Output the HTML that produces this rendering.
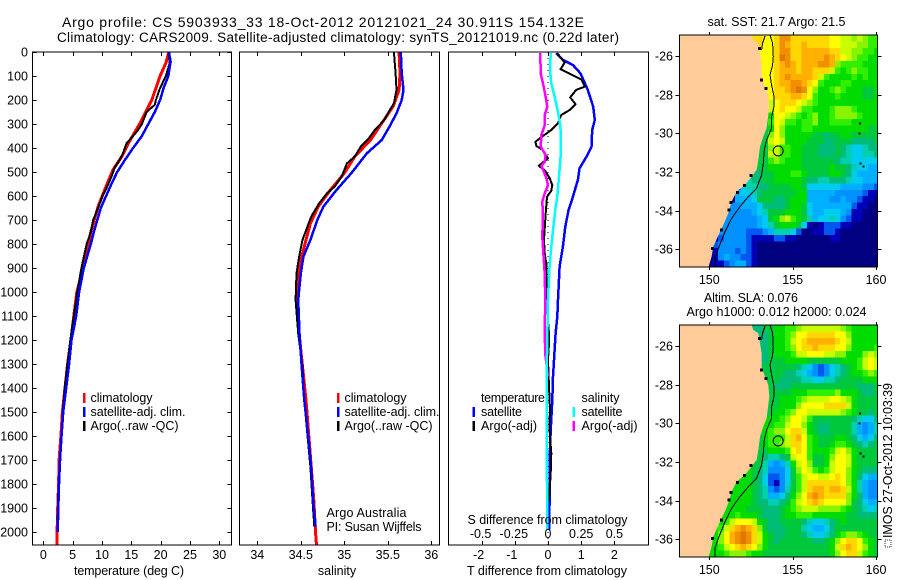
<!DOCTYPE html>
<html lang="en">
<head>
<meta charset="utf-8">
<title>Argo profile CS 5903933_33</title>
<style>
html,body{margin:0;padding:0;background:#fff;width:900px;height:580px;overflow:hidden}
svg{display:block}
text{font-family:"Liberation Sans",sans-serif;font-size:12.5px;fill:#000}
</style>
</head>
<body>
<svg id="fig" xmlns="http://www.w3.org/2000/svg" width="900" height="580" viewBox="0 0 900 580">
<defs>
<clipPath id="clip-map1"><rect x="679.5" y="35" width="198" height="232"/></clipPath>
<clipPath id="clip-map2"><rect x="679.5" y="325" width="198" height="232"/></clipPath>
</defs>
<text x="62" y="27" style="font-size:14px" textLength="522" lengthAdjust="spacing">Argo profile: CS 5903933_33 18-Oct-2012 20121021_24 30.911S 154.132E</text>
<text x="57" y="42" style="font-size:13.5px" textLength="562" lengthAdjust="spacing">Climatology: CARS2009. Satellite-adjusted climatology: synTS_20121019.nc (0.22d later)</text>
<g id="plots"></g>

<text x="129" y="575" text-anchor="middle" textLength="110" lengthAdjust="spacing">temperature (deg C)</text>
<text x="337" y="575" text-anchor="middle">salinity</text>
<text x="467" y="575" textLength="160" lengthAdjust="spacing">T difference from climatology</text>
<text x="467.5" y="524" textLength="160" lengthAdjust="spacing">S difference from climatology</text>

<g>
<rect x="83" y="393" width="2.5" height="10" fill="#ff0000"/>
<text x="90.5" y="402" textLength="62" lengthAdjust="spacing">climatology</text>
<rect x="83" y="407" width="2.5" height="10" fill="#0000ff"/>
<text x="90.5" y="416" textLength="95" lengthAdjust="spacing">satellite-adj. clim.</text>
<rect x="83" y="421" width="2.5" height="10" fill="#000"/>
<text x="90.5" y="430" textLength="88" lengthAdjust="spacing">Argo(..raw -QC)</text>
</g>
<g>
<rect x="337" y="393" width="2.5" height="10" fill="#ff0000"/>
<text x="344.5" y="402" textLength="62" lengthAdjust="spacing">climatology</text>
<rect x="337" y="407" width="2.5" height="10" fill="#0000ff"/>
<text x="344.5" y="416" textLength="95" lengthAdjust="spacing">satellite-adj. clim.</text>
<rect x="337" y="421" width="2.5" height="10" fill="#000"/>
<text x="344.5" y="430" textLength="88" lengthAdjust="spacing">Argo(..raw -QC)</text>
</g>
<text x="326.5" y="517" textLength="80" lengthAdjust="spacing">Argo Australia</text>
<text x="326.5" y="531" textLength="95" lengthAdjust="spacing">PI: Susan Wijffels</text>

<g>
<text x="481" y="402" textLength="64" lengthAdjust="spacing">temperature</text>
<rect x="472.5" y="407" width="2.5" height="10" fill="#0000ff"/>
<text x="481" y="416" textLength="41" lengthAdjust="spacing">satellite</text>
<rect x="472.5" y="421" width="2.5" height="10" fill="#000"/>
<text x="481" y="430" textLength="56" lengthAdjust="spacing">Argo(-adj)</text>
<text x="581.5" y="402" textLength="38" lengthAdjust="spacing">salinity</text>
<rect x="572.5" y="407" width="2.5" height="10" fill="#00ffff"/>
<text x="581.5" y="416" textLength="41" lengthAdjust="spacing">satellite</text>
<rect x="572.5" y="421" width="2.5" height="10" fill="#ff00ff"/>
<text x="581.5" y="430" textLength="56" lengthAdjust="spacing">Argo(-adj)</text>
</g>

<text x="707.5" y="26" textLength="138" lengthAdjust="spacing">sat. SST: 21.7 Argo: 21.5</text>
<text x="704" y="302" textLength="94" lengthAdjust="spacing">Altim. SLA: 0.076</text>
<text x="686.5" y="316" textLength="180" lengthAdjust="spacing">Argo h1000: 0.012 h2000: 0.024</text>

<g>
<rect x="885" y="540" width="6" height="7" fill="none" stroke="#333" stroke-width="1" stroke-dasharray="1 1"/>
<text transform="translate(892,538) rotate(-90)" textLength="155" lengthAdjust="spacing">IMOS 27-Oct-2012 10:03:39</text>
</g>
</svg>
<script>
// ---------- profile data: [depth, value] ----------
const tempClimatology = [[0,21.4],[46,20.9],[100,19.9],[200,18.5],[296,16.5],[380,14.5],[435,13.4],[490,11.9],[560,10.7],[640,9.4],[750,8.1],[893,6.8],[1004,5.7],[1100,5.2],[1200,4.7],[1300,4.15],[1400,3.7],[1500,3.25],[1600,3.0],[1700,2.7],[1800,2.6],[1900,2.45],[2000,2.35],[2054,2.3]];
const tempSatellite = [[0,21.4],[40,21.7],[100,21.3],[150,20.5],[200,19.9],[250,19.0],[300,17.9],[350,16.8],[400,15.3],[450,13.9],[500,12.6],[550,11.6],[600,10.7],[650,9.8],[700,9.2],[750,8.6],[800,8.1],[900,6.9],[1000,6.1],[1100,5.6],[1200,4.8],[1300,4.4],[1400,3.9],[1500,3.4],[1600,3.1],[1700,2.85],[1800,2.67],[1900,2.55],[2000,2.45]];
const tempArgo = [[5,21.3],[30,21.5],[50,21.5],[100,20.9],[150,19.9],[200,19.2],[220,19.0],[250,17.6],[300,16.8],[330,16.0],[350,15.3],[380,14.2],[420,13.6],[450,13.0],[480,12.2],[520,11.6],[560,10.9],[600,10.1],[640,9.5],[700,8.5],[750,8.1],[800,7.4],[900,6.5],[1000,5.8],[1100,5.2],[1200,4.6],[1300,4.1],[1400,3.65],[1500,3.3],[1600,3.1],[1700,2.9],[1800,2.7],[1850,2.5],[1950,2.45]];

const salClimatology = [[0,35.63],[89,35.64],[158,35.63],[228,35.56],[297,35.43],[367,35.30],[436,35.12],[505,35.0],[575,34.84],[644,34.70],[714,34.61],[783,34.56],[853,34.51],[922,34.47],[1033,34.46],[1172,34.48],[1311,34.52],[1450,34.56],[1589,34.59],[1728,34.62],[1867,34.65],[2006,34.67],[2054,34.68]];
const salSatellite = [[0,35.65],[89,35.66],[158,35.68],[200,35.66],[256,35.60],[311,35.52],[367,35.43],[422,35.26],[505,35.08],[575,34.91],[644,34.76],[700,34.69],[783,34.61],[853,34.53],[922,34.50],[1033,34.47],[1172,34.485],[1311,34.51],[1450,34.54],[1589,34.58],[1728,34.62],[1867,34.64],[1978,34.67]];
const salArgo = [[0,35.57],[89,35.59],[158,35.60],[214,35.57],[249,35.51],[283,35.46],[325,35.35],[360,35.28],[394,35.19],[436,35.12],[464,35.03],[519,34.97],[561,34.89],[589,34.80],[631,34.71],[686,34.62],[783,34.52],[853,34.48],[922,34.45],[1033,34.44],[1172,34.47],[1311,34.52],[1450,34.54],[1589,34.575],[1728,34.61],[1867,34.635],[1978,34.655]];

const diffTSatellite = [[5,.25],[33,.45],[54,.75],[89,.98],[158,1.2],[228,1.36],[283,1.41],[325,1.33],[394,1.31],[436,1.16],[485,.95],[533,.9],[617,.72],[658,.62],[728,.52],[811,.45],[894,.35],[1033,.30],[1103,.28],[1172,.23],[1242,.2],[1353,.15],[1450,.13],[1575,.08],[1658,.06],[1853,.05],[1992,.03]];
const diffTArgo = [[5,.28],[44,.5],[72,.38],[114,1.0],[144,1.11],[158,.85],[189,.67],[218,.83],[242,.65],[262,.4],[297,.3],[325,.1],[353,-.18],[374,-.38],[392,-.35],[408,-.15],[443,0],[474,-.28],[492,-.1],[526,.05],[554,.13],[578,.1],[603,-.03],[672,-.07],[783,-.12],[839,-.1],[881,-.05],[1033,-.05],[1172,.03],[1214,.03],[1283,0],[1394,.03],[1491,.06],[1560,.04],[1672,.1],[1756,.08],[1870,.03]];
const diffSSatellite = [[5,.02],[75,.015],[131,.025],[186,.05],[249,.075],[311,.093],[367,.098],[436,.095],[519,.083],[603,.07],[658,.055],[742,.038],[839,.02],[908,.01],[1033,0],[1283,-.008],[1450,-.01],[1728,-.008],[1992,-.005]];
const diffSArgo = [[5,-.058],[89,-.055],[131,-.038],[186,-.018],[228,-.005],[262,-.025],[304,-.025],[346,-.05],[394,-.055],[429,-.018],[457,-.025],[475,-.05],[499,-.03],[526,-.013],[554,0],[589,-.025],[624,-.043],[679,-.038],[769,-.043],[853,-.033],[922,-.025],[1033,-.02],[1158,-.025],[1262,-.02],[1353,0]];

// ---------- ticks ----------
const depthTicks = [0,100,200,300,400,500,600,700,800,900,1000,1100,1200,1300,1400,1500,1600,1700,1800,1900,2000];
const tempTicks = [0,5,10,15,20,25,30];
const salTicks = [34,34.5,35,35.5,36];
const diffTTicks = [-2,-1,0,1,2];
const diffSTicks = [-0.5,-0.25,0,0.25,0.5];
const lonTicks = [150,155,160];
const latTicks = [-26,-28,-30,-32,-34,-36];

// ---------- map data: colour-level rows, aligned to the eastern edge of the grid ----------
const sstRows = [
[14,14,13,13,14,16,16,14,14,14,14,14,14,14,13,13,12,12,11,12,11,10,10],
[14,14,13,13,14,16,15,14,14,15,14,14,14,14,13,13,12,12,12,11,11,10,10],
[14,13,13,13,14,16,16,14,14,15,15,15,15,15,14,14,12,12,11,11,10,10,9],
[13,13,13,13,14,17,16,14,14,15,15,15,15,16,15,14,13,12,11,10,10,9,9],
[13,13,13,13,14,15,16,15,14,15,15,15,16,16,15,11,10,10,10,10,9,9,9],
[13,13,13,13,14,15,15,15,14,15,15,14,14,14,12,10,9,10,11,10,10,9,9],
[13,13,13,13,14,15,16,15,15,15,15,14,12,10,9,9,9,9,10,9,10,9,9],
[13,13,13,13,14,15,15,16,16,15,14,13,10,9,9,9,10,10,9,9,9,9,9],
[13,13,13,13,14,14,15,16,17,16,13,11,9,9,10,11,10,9,9,9,8,8,9],
[13,13,13,13,14,14,14,15,15,14,13,10,9,9,9,10,9,9,9,9,8,8,9],
[12,12,12,12,13,14,14,14,13,12,11,10,9,9,9,9,9,9,9,9,9,9,9],
[9,9,10,12,13,14,13,13,12,10,10,9,9,9,10,11,11,11,10,9,9,9,9],
[7,7,8,9,13,13,12,11,10,9,10,11,9,9,10,11,11,11,11,10,9,9,9],
[7,8,8,10,13,12,10,10,9,10,10,11,9,9,10,10,10,10,9,9,9,9,9],
[7,8,8,9,13,11,9,9,9,10,10,9,9,9,9,9,9,9,9,9,9,8,8],
[7,8,8,11,13,11,9,9,9,9,9,8,8,7,8,8,9,9,8,8,8,8,8],
[7,8,8,12,13,12,9,9,9,9,8,8,8,7,7,8,8,8,7,7,7,7,8],
[7,8,8,11,12,10,10,9,9,8,8,8,7,7,7,8,7,6,5,5,6,7,7],
[7,8,8,12,12,10,10,9,9,8,8,8,7,7,7,8,7,6,5,5,6,6,7],
[7,8,8,10,11,10,9,9,9,8,8,8,8,8,8,7,6,6,5,5,5,5,5],
[7,8,8,9,9,9,9,9,9,8,8,8,8,8,9,8,8,7,6,5,5,4,4],
[7,7,8,8,9,9,9,10,10,9,8,8,8,8,9,9,8,7,5,4,4,4,4],
[6,6,7,7,8,8,9,9,9,9,9,8,7,7,6,6,7,7,7,6,5,5,4,4,4],
[5,6,6,7,7,8,8,8,8,9,9,8,5,5,5,5,5,5,4,4,4,4,3,3,2],
[4,5,5,6,7,8,8,8,8,8,8,9,9,4,4,4,4,4,3,3,3,3,3,2,1,1],
[4,4,4,5,8,8,8,7,7,8,9,9,9,4,4,4,4,3,3,4,3,3,2,1,1,0],
[3,3,4,4,4,5,7,7,7,7,8,9,9,8,5,4,4,4,4,4,4,4,2,1,1,0,0],
[3,3,3,3,3,4,5,6,8,8,8,9,9,9,8,5,4,4,5,5,5,4,3,1,1,0,0,0],
[3,3,3,3,3,3,4,5,8,9,11,12,10,9,8,6,4,5,5,6,5,3,2,1,1,0,0,0],
[3,3,3,3,3,3,3,4,5,6,8,9,9,9,8,5,1,0,1,2,2,2,1,1,0,0,0,0,0],
[2,3,3,3,3,3,2,2,2,3,4,6,6,6,5,2,0,0,1,1,2,2,1,0,0,0,0,0,0,0],
[1,2,3,3,3,3,2,1,1,1,1,2,2,1,1,0,0,0,0,0,0,1,1,0,0,0,0,0,0,0],
[1,2,3,3,3,3,3,2,1,0,0,0,0,0,0,0,0,0,0,0,0,0,0,0,0,0,0,0,0,0,0],
[1,1,3,3,3,2,3,2,1,0,0,0,0,0,0,0,0,0,0,0,0,0,0,0,0,0,0,0,0,0,0],
[0,1,3,4,3,3,2,2,1,0,0,0,0,0,0,0,0,0,0,0,0,0,0,0,0,0,0,0,0,0,0],
[0,1,1,2,3,4,4,2,1,0,0,0,0,0,0,0,0,0,0,0,0,0,0,0,0,0,0,0,0,0,0]
];
const slaRows = [
[7,7,8,8,9,9,10,10,11,12,12,12,12,12,12,12,11,10,9,9,9,9,9],
[7,7,7,8,9,9,10,11,13,13,14,14,14,14,14,13,13,11,9,9,9,9,9],
[7,7,7,8,9,9,10,12,13,14,15,15,15,15,15,14,13,12,9,9,9,9,9],
[7,7,7,8,9,9,10,11,13,14,14,15,14,14,14,13,13,11,9,9,9,9,10],
[7,7,7,8,9,9,9,10,12,12,13,13,13,12,12,11,11,9,9,9,11,12,11],
[7,7,7,8,8,8,9,9,9,9,8,8,8,8,8,8,9,9,9,10,12,13,12],
[7,7,8,8,8,8,8,8,7,6,5,3,2,3,5,6,7,8,9,10,12,13,12],
[7,7,8,8,8,8,7,7,6,5,4,3,2,3,5,6,7,8,9,9,10,11,10],
[8,8,8,8,8,7,7,7,7,6,6,5,5,6,6,7,8,8,8,8,9,9,9],
[8,8,8,8,7,7,7,8,8,8,8,8,8,8,8,8,8,8,8,7,7,7,8],
[8,8,8,8,8,8,8,9,9,9,10,10,10,10,10,11,9,9,9,8,7,7,8],
[8,8,8,8,8,9,9,9,10,11,12,12,12,12,13,13,12,11,9,8,8,8,8],
[8,8,8,8,8,9,9,9,11,13,13,13,13,14,14,14,14,12,9,8,8,8,8],
[8,8,8,8,9,9,10,11,13,13,12,12,12,12,12,12,11,10,9,8,8,7,8],
[8,8,9,9,9,10,11,13,13,12,10,8,8,8,8,8,8,8,7,6,5,5,7],
[8,8,9,9,10,10,12,13,13,11,9,8,7,7,8,8,8,8,6,4,3,4,6],
[8,8,9,10,11,11,13,14,14,12,9,8,7,7,8,8,8,8,6,4,3,4,6],
[8,8,9,10,10,10,12,14,15,13,10,9,8,8,8,9,9,8,7,5,4,5,7],
[8,8,9,10,10,11,12,14,14,13,10,9,8,8,9,10,10,9,8,7,6,7,8],
[8,8,8,9,9,9,10,13,14,13,10,9,9,9,10,12,13,11,9,8,8,8,8],
[8,8,7,6,6,7,8,12,13,13,10,8,8,9,11,13,13,12,9,8,8,8,8],
[8,8,6,4,3,4,6,9,12,13,11,8,8,9,12,13,13,12,9,8,8,8,8],
[9,9,8,7,6,3,3,3,5,8,11,13,12,10,9,10,12,13,13,11,9,8,7,7,7],
[9,9,9,8,7,5,2,2,3,5,8,10,12,13,13,12,12,13,14,13,11,9,7,5,4,4],
[9,9,9,9,8,7,5,2,1,3,5,8,10,12,14,14,14,14,14,14,13,11,9,6,4,3,3],
[9,9,9,9,8,7,6,3,2,3,6,8,10,12,14,15,15,14,15,15,14,12,9,6,4,3,3],
[9,9,9,9,9,8,7,6,4,4,5,7,9,11,13,15,16,15,14,14,14,14,11,9,7,4,3,3],
[9,9,9,9,9,8,7,7,6,6,7,8,10,12,13,14,15,14,13,13,13,13,11,8,7,5,4,4],
[9,9,9,9,8,8,8,7,7,7,8,9,10,11,12,12,12,11,11,11,11,10,9,8,7,6,5,6],
[9,9,9,10,9,9,9,8,7,7,7,8,9,9,10,10,10,9,9,9,9,9,9,8,8,7,7,7,7],
[9,10,12,13,13,13,12,9,8,7,7,8,8,8,8,7,6,5,5,6,7,8,9,8,8,8,8,8,8],
[9,10,12,14,15,16,15,14,11,8,7,7,7,8,8,8,6,5,4,4,5,7,8,8,8,8,8,8,8,8],
[9,11,13,15,16,17,16,14,12,9,8,7,7,8,8,8,7,6,5,5,6,7,9,10,11,11,10,9,8,8],
[9,9,11,13,15,16,17,16,14,12,9,8,7,8,8,8,8,8,8,7,7,8,9,11,13,14,14,13,10,9,8],
[9,9,10,12,13,14,15,14,13,11,9,8,8,8,8,8,8,8,8,8,8,8,9,12,14,15,14,13,11,9,8],
[9,9,9,10,11,11,11,10,9,9,8,8,8,8,8,8,8,8,8,8,8,8,9,11,13,14,14,12,10,9,8]
];

// ---------- coast geography: [lon, lat] ----------
const coastline = [[152.54,-24.91],[152.64,-25.17],[152.94,-25.34],[153.04,-25.86],[153.14,-26.38],[153.14,-27.07],[153.34,-27.59],[153.54,-28.02],[153.6,-28.62],[153.54,-29.05],[153.44,-29.74],[153.24,-30.17],[153.04,-30.69],[152.94,-31.38],[152.84,-31.9],[152.54,-32.24],[152.14,-32.67],[151.64,-33.02],[151.34,-33.53],[151.14,-34.14],[150.88,-34.66],[150.6,-35.17],[150.24,-35.86],[150.14,-36.38],[149.94,-36.95]];
const isobathMain = [[153.64,-24.91],[153.8,-25.34],[153.84,-26.03],[153.8,-26.47],[153.64,-26.98],[153.74,-27.5],[153.88,-28.1],[153.88,-28.62],[153.74,-29.14],[153.74,-29.74],[153.44,-30.34],[153.3,-30.86],[153.24,-31.55],[153.14,-32.16],[152.84,-32.84],[152.34,-33.28],[151.84,-33.79],[151.34,-34.4],[150.94,-35.09],[150.54,-35.95],[150.34,-36.47],[150.34,-36.95]];
const isobathNorth = [[153.34,-24.97],[153.2,-25.34],[153.14,-25.69]];
const coastSpecks = [[153,-25.6],[153.14,-27.24],[153.4,-27.67],[152.5,-32.19],[152.1,-32.69],[151.68,-33.05],[151.3,-33.57],[151.18,-33.97],[150.74,-35],[150.2,-35.95]];
const islands = [[159.04,-29.48],[159.02,-30],[159.08,-31.55],[159.24,-31.72]];
const profileLocation = [154.132,-30.911];

// ---------- helpers ----------
const NS = 'http://www.w3.org/2000/svg';
const root = document.getElementById('plots');
const LEVELS = ['#000080','#0000b8','#0058f0','#0090ff','#00b0ff','#00ccf0','#00d0b0','#00bc78','#00c83c','#00dc00','#30f000','#88f400','#c8ff00','#ffff00','#ffd800','#ffb000','#f09000','#e07800'];
function levelColor(v){return LEVELS[Math.max(0,Math.min(LEVELS.length-1,Math.round(v)))];}
function mk(tag,attrs,parent,name){
  const el=document.createElementNS(NS,tag);
  for(const k in attrs) el.setAttribute(k,attrs[k]);
  
  
  (parent||root).appendChild(el);
  return el;
}
function label(parent,name,x,y,str,anchor){
  const t=mk('text',{x:x,y:y,'text-anchor':anchor||'middle'},parent,name);
  t.textContent=str;
  return t;
}

// ---------- profile panels ----------
const yTop=52, pxPerM=0.24, yBottom=545;
const depthY = d => yTop + d*pxPerM;
const tempX = v => 43.3 + v*5.867;
const salX = v => 257.3 + (v-34)*87;
const diffTX = v => 548 + v*33.2;
const diffSX = v => 548 + v*132.8;

function panel(name,x0,x1){
  const g=mk('g',{},root,name);
  mk('rect',{x:x0,y:yTop,width:x1-x0,height:yBottom-yTop,fill:'#fff'},g,name+'-background');
  return g;
}
function frame(g,name,x0,x1){
  mk('rect',{x:x0,y:yTop,width:x1-x0,height:yBottom-yTop,fill:'none',stroke:'#000','stroke-width':1,'shape-rendering':'crispEdges'},g,name+'-frame');
}
function line(g,name,pts,xf,color,w){
  const p=pts.map(a=>xf(a[1]).toFixed(1)+','+depthY(a[0]).toFixed(1)).join(' ');
  mk('polyline',{points:p,fill:'none',stroke:color,'stroke-width':w,'stroke-linejoin':'round','shape-rendering':'crispEdges'},g,name);
}
function xTicks(g,name,ticks,xf,baseline){
  ticks.forEach(t=>{
    const x=Math.round(xf(t))+.5;
    mk('line',{x1:x,x2:x,y1:yTop,y2:yTop+4,stroke:'#000','shape-rendering':'crispEdges'},g,name+'-top-tick');
    mk('line',{x1:x,x2:x,y1:yBottom,y2:yBottom-4,stroke:'#000','shape-rendering':'crispEdges'},g,name+'-bottom-tick');
    if(baseline) label(g,name+'-tick-label',xf(t)-(t<0?3:0),baseline,String(t));
  });
}

const p1=panel('temperature-panel',32.5,231.5);
line(p1,'temperature-climatology-line',tempClimatology,tempX,'#ff0000',3);
line(p1,'temperature-argo-line',tempArgo,tempX,'#000',2);
line(p1,'temperature-satellite-line',tempSatellite,tempX,'#0000ff',2.5);
frame(p1,'temperature-panel',32.5,231.5);
xTicks(p1,'temperature',tempTicks,tempX,559);
depthTicks.forEach(d=>{
  const y=Math.round(depthY(d))+.5;
  mk('line',{x1:32.5,x2:36.5,y1:y,y2:y,stroke:'#000','shape-rendering':'crispEdges'},p1,'depth-left-tick');
  mk('line',{x1:231.5,x2:227.5,y1:y,y2:y,stroke:'#000','shape-rendering':'crispEdges'},p1,'depth-right-tick');
  label(p1,'depth-tick-label',28,y+4,String(d),'end');
});

const p2=panel('salinity-panel',239.5,439.5);
line(p2,'salinity-climatology-line',salClimatology,salX,'#ff0000',3);
line(p2,'salinity-argo-line',salArgo,salX,'#000',2);
line(p2,'salinity-satellite-line',salSatellite,salX,'#0000ff',2.5);
frame(p2,'salinity-panel',239.5,439.5);
xTicks(p2,'salinity',salTicks,salX,559);

const p3=panel('difference-panel',448.5,648.5);
line(p3,'t-difference-satellite-line',diffTSatellite,diffTX,'#0000ff',2.5);
line(p3,'t-difference-argo-line',diffTArgo,diffTX,'#000',2);
mk('line',{x1:diffTX(0),x2:diffTX(0),y1:yTop,y2:yBottom,stroke:'#000','stroke-width':1,'stroke-dasharray':'1 5','shape-rendering':'crispEdges'},p3,'zero-difference-line');
line(p3,'s-difference-argo-line',diffSArgo,diffSX,'#ff00ff',2.5);
line(p3,'s-difference-satellite-line',diffSSatellite,diffSX,'#00ffff',2.5);
frame(p3,'difference-panel',448.5,648.5);
xTicks(p3,'t-difference',diffTTicks,diffTX,559);
diffSTicks.forEach(t=>label(p3,'s-difference-tick-label',diffSX(t)-(t<0?1:0),538,String(t)));

// ---------- maps ----------
const COLS=36, W0=148.2, N0=-24.92, CELL=1/3;
function drawMap(name,rows,top){
  const lonX = lon => 709.3 + (lon-150)*16.67;
  const latY = lat => top + 21 + (-26-lat)*19.33;
  const g=mk('g',{},root,name);
  const clipId = top<100 ? 'clip-map1' : 'clip-map2';
  const inner=mk('g',{'clip-path':'url(#'+clipId+')'},g,name+'-plot-area');
  mk('rect',{x:679.5,y:top,width:198,height:232,fill:'#00007f'},inner,name+'-sea-background');
  rows.forEach((row,r)=>{
    const offset=COLS-row.length;
    row.forEach((v,i)=>{
      const c=offset+i;
      const lon=W0+c*CELL, lat=N0-r*CELL;
      const x=lonX(lon), y=latY(lat);
      mk('rect',{x:x.toFixed(2),y:y.toFixed(2),width:(16.67*CELL+.4).toFixed(2),height:(19.33*CELL+.4).toFixed(2),fill:levelColor(v),'shape-rendering':'crispEdges'},inner,name+'-cell');
    });
  });
  const land=coastline.map(a=>lonX(a[0]).toFixed(1)+','+latY(a[1]).toFixed(1));
  land.push(lonX(148).toFixed(1)+','+latY(-37.1).toFixed(1));
  land.push(lonX(148).toFixed(1)+','+latY(-24.8).toFixed(1));
  mk('polygon',{points:land.join(' '),fill:'#ffcc99',stroke:'none'},inner,name+'-land');
  const pl=(pts,n,w)=>mk('polyline',{points:pts.map(a=>lonX(a[0]).toFixed(1)+','+latY(a[1]).toFixed(1)).join(' '),fill:'none',stroke:'#000','stroke-width':w,'shape-rendering':'crispEdges'},inner,n);
  pl(isobathMain,name+'-isobath',1);
  pl(isobathNorth,name+'-isobath-north',1);
  coastSpecks.forEach(s=>mk('rect',{x:lonX(s[0])-1.5,y:latY(s[1])-1.5,width:3,height:3,fill:'#000','shape-rendering':'crispEdges'},inner,name+'-coast-detail'));
  islands.forEach(s=>mk('rect',{x:lonX(s[0])-1,y:latY(s[1])-1,width:2,height:2,fill:'#000','shape-rendering':'crispEdges'},inner,name+'-island'));
  mk('circle',{cx:lonX(profileLocation[0]),cy:latY(profileLocation[1]),r:5,fill:'none',stroke:'#000','stroke-width':1},inner,name+'-profile-location');
  mk('rect',{x:679.5,y:top,width:198,height:232,fill:'none',stroke:'#000','shape-rendering':'crispEdges'},g,name+'-frame');
  lonTicks.forEach(t=>{
    const x=Math.round(lonX(t))+.5;
    mk('line',{x1:x,x2:x,y1:top,y2:top-3,stroke:'#000','shape-rendering':'crispEdges'},g,name+'-top-tick');
    mk('line',{x1:x,x2:x,y1:top+232,y2:top+235,stroke:'#000','shape-rendering':'crispEdges'},g,name+'-bottom-tick');
    label(g,name+'-longitude-label',lonX(t),top+249,String(t));
  });
  latTicks.forEach(t=>{
    const y=Math.round(latY(t))+.5;
    mk('line',{x1:679.5,x2:675.5,y1:y,y2:y,stroke:'#000','shape-rendering':'crispEdges'},g,name+'-left-tick');
    mk('line',{x1:877.5,x2:881.5,y1:y,y2:y,stroke:'#000','shape-rendering':'crispEdges'},g,name+'-right-tick');
    label(g,name+'-latitude-label',673,y+4,String(t),'end');
  });
}
drawMap('sst-map',sstRows,35);
drawMap('sla-map',slaRows,325);
</script>
</body>
</html>
